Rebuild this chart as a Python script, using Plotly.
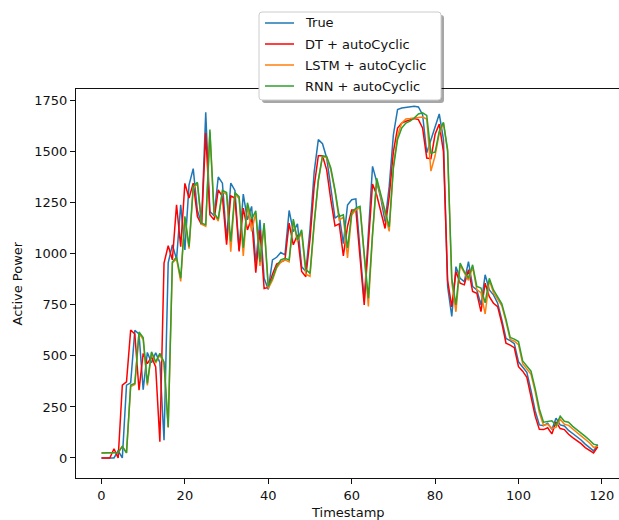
import plotly.graph_objects as go

# Timestamps 0..119
timestamps = list(range(120))

true_power = [
    0, 0, 0, 0, 35, 0, 357, 368, 625, 607,
    335, 517, 466, 515, 468, 87, 956, 1044, 973, 1240,
    1019, 1338, 1417, 1212, 1150, 1693, 1207, 1186, 1376, 1346,
    1068, 1346, 1310, 1019, 1292, 1166, 1232, 954, 1166, 880,
    825, 970, 983, 1006, 995, 1212, 1109, 1147, 937, 913,
    1120, 1400, 1559, 1539, 1469, 1322, 1174, 1190, 1050, 1239,
    1265, 1269, 1020, 770, 1100, 1428, 1353, 1271, 1157, 1330,
    1583, 1706, 1714, 1717, 1719, 1722, 1719, 1681, 1495, 1560,
    1625, 1685, 1560, 840, 693, 937, 880, 864, 962, 840,
    823, 750, 897, 823, 799, 758, 676, 585, 575, 560,
    471, 445, 420, 330, 230, 162, 158, 170, 140, 195,
    162, 157, 135, 120, 105, 88, 68, 50, 35, 65,
]

dt_pred = [
    0, 0, 0, 45, 0, 357, 373, 627, 607, 332,
    512, 462, 495, 446, 80, 954, 1040, 970, 1240, 1035,
    1345, 1273, 1346, 1183, 1142, 1592, 1191, 1166, 1313, 1280,
    1044, 1283, 1273, 1011, 1224, 1117, 1175, 908, 1117, 830,
    835, 900, 950, 960, 970, 1150, 1044, 1093, 913, 888,
    1070, 1330, 1480, 1480, 1411, 1264, 1137, 1147, 990, 1135,
    1215, 1215, 1000, 750, 1050, 1342, 1288, 1207, 1124, 1280,
    1500, 1616, 1640, 1649, 1655, 1662, 1657, 1616, 1469, 1466,
    1585, 1635, 1500, 870, 740, 913, 856, 848, 922, 815,
    807, 717, 856, 790, 758, 741, 660, 562, 553, 540,
    447, 425, 395, 305, 205, 140, 139, 148, 118, 177,
    144, 139, 116, 100, 87, 70, 51, 36, 25, 55,
]

lstm_pred = [
    25, 25, 25, 25, 27, 57, 25, 350, 360, 610,
    580, 355, 515, 465, 505, 462, 148, 955, 975, 865,
    1175, 1025, 1320, 1345, 1145, 1135, 1595, 1195, 1160, 1305,
    1290, 1010, 1295, 1270, 990, 1240, 1110, 1200, 940, 1140,
    830, 870, 930, 960, 970, 960, 1160, 1060, 1105, 900,
    890, 1140, 1355, 1478, 1470, 1410, 1305, 1165, 1180, 980,
    1190, 1215, 1225, 990, 742, 1090, 1360, 1280, 1195, 1110,
    1430, 1580, 1640, 1660, 1662, 1665, 1670, 1670, 1660, 1405,
    1480, 1590, 1640, 1500, 860, 716, 945, 905, 870, 935,
    825, 810, 705, 870, 810, 778, 745, 668, 580, 572,
    555, 462, 437, 410, 325, 222, 160, 165, 145, 150,
    190, 165, 160, 140, 125, 108, 92, 75, 52, 58,
]

rnn_pred = [
    25, 25, 25, 25, 27, 57, 25, 357, 365, 617,
    590, 365, 520, 471, 512, 470, 152, 960, 985, 880,
    1183, 1035, 1330, 1350, 1150, 1142, 1608, 1200, 1170, 1310,
    1300, 1060, 1300, 1280, 1030, 1250, 1170, 1210, 960, 1150,
    840, 880, 937, 970, 978, 970, 1170, 1068, 1117, 924,
    904, 1150, 1362, 1480, 1477, 1420, 1313, 1183, 1191, 1027,
    1199, 1224, 1232, 1000, 783, 1100, 1370, 1290, 1210, 1132,
    1420, 1560, 1616, 1640, 1650, 1665, 1685, 1690, 1678, 1493,
    1498, 1600, 1644, 1510, 880, 750, 955, 913, 880, 946,
    840, 832, 760, 880, 823, 790, 755, 680, 590, 582,
    570, 475, 450, 425, 340, 240, 175, 180, 182, 160,
    205, 180, 175, 155, 140, 122, 106, 88, 68, 62,
]

x_ticks = [0, 20, 40, 60, 80, 100, 120]
y_ticks = [0, 250, 500, 750, 1000, 1250, 1500, 1750]

series = [
    ("True", true_power, "#1f77b4"),
    ("DT + autoCyclic", dt_pred, "#ff0000"),
    ("LSTM + autoCyclic", lstm_pred, "#ff7f0e"),
    ("RNN + autoCyclic", rnn_pred, "#2ca02c"),
]

FONT = "DejaVu Sans"
TXT = "#111111"
W, H = 619, 520
L, R, T, B = 76, 0, 89, 42
PW, PH = W - L - R, H - T - B


def px(xpix):
    """Figure pixel column -> paper x."""
    return (xpix - L) / PW


def py(ypix):
    """Figure pixel row -> paper y."""
    return 1 - (ypix - T) / PH


def rounded_box(x0, y0, x1, y1, r):
    """SVG path (paper units) for a rectangle with rounded corners, pixel input."""
    pts = [
        f"M {px(x0 + r)},{py(y0)}",
        f"L {px(x1 - r)},{py(y0)}",
        f"Q {px(x1)},{py(y0)} {px(x1)},{py(y0 + r)}",
        f"L {px(x1)},{py(y1 - r)}",
        f"Q {px(x1)},{py(y1)} {px(x1 - r)},{py(y1)}",
        f"L {px(x0 + r)},{py(y1)}",
        f"Q {px(x0)},{py(y1)} {px(x0)},{py(y1 - r)}",
        f"L {px(x0)},{py(y0 + r)}",
        f"Q {px(x0)},{py(y0)} {px(x0 + r)},{py(y0)}",
        "Z",
    ]
    return " ".join(pts)


fig = go.Figure()
for name, vals, color in series:
    fig.add_trace(go.Scatter(
        x=timestamps, y=vals, mode="lines", name=name,
        line=dict(color=color, width=1.5),
    ))

# Legend frame with a drop shadow, drawn above the plotting area
box = (259, 12, 441, 100)
shapes = [
    dict(type="path", xref="paper", yref="paper", layer="above",
         path=rounded_box(box[0] + 3, box[1] + 3, box[2] + 3, box[3] + 3, 3),
         fillcolor="rgba(0,0,0,0.35)", line=dict(width=0)),
    dict(type="path", xref="paper", yref="paper", layer="above",
         path=rounded_box(*box, 3),
         fillcolor="white", line=dict(color="#cccccc", width=1)),
]
annotations = []
row_y = [23, 44, 65, 86]
for (name, _, color), yy in zip(series, row_y):
    shapes.append(dict(type="line", xref="paper", yref="paper", layer="above",
                       x0=px(265), x1=px(294), y0=py(yy), y1=py(yy),
                       line=dict(color=color, width=1.5)))
    annotations.append(dict(text=name, xref="paper", yref="paper",
                            x=px(303), y=py(yy), xanchor="left", yanchor="middle",
                            showarrow=False,
                            font=dict(family=FONT, size=13, color=TXT)))

annotations += [
    dict(text="Timestamp", xref="paper", yref="paper",
         x=0.5, y=py(512), xanchor="center", yanchor="middle", showarrow=False,
         font=dict(family=FONT, size=13, color=TXT)),
    dict(text="Active Power", xref="paper", yref="paper",
         x=px(17), y=0.5, textangle=-90,
         xanchor="center", yanchor="middle", showarrow=False,
         font=dict(family=FONT, size=13, color=TXT)),
]

fig.update_layout(
    width=W, height=H,
    margin=dict(l=L, r=R, t=T, b=B, pad=0),
    paper_bgcolor="white", plot_bgcolor="white",
    font=dict(family=FONT, size=13, color=TXT),
    showlegend=False,
    xaxis=dict(
        range=[-6.11, 124.1], tickvals=x_ticks,
        showgrid=False, zeroline=False,
        showline=True, linecolor=TXT, linewidth=1, mirror=True,
        ticks="outside", ticklen=5, tickwidth=1, tickcolor=TXT,
        tickfont=dict(family=FONT, size=13, color=TXT),
        automargin=False,
    ),
    yaxis=dict(
        range=[-98, 1807], tickvals=y_ticks,
        showgrid=False, zeroline=False,
        showline=True, linecolor=TXT, linewidth=1,
        ticks="outside", ticklen=5, tickwidth=1, tickcolor=TXT,
        tickfont=dict(family=FONT, size=13, color=TXT),
        automargin=False,
    ),
    shapes=shapes,
    annotations=annotations,
)

fig.write_html("out.html")
